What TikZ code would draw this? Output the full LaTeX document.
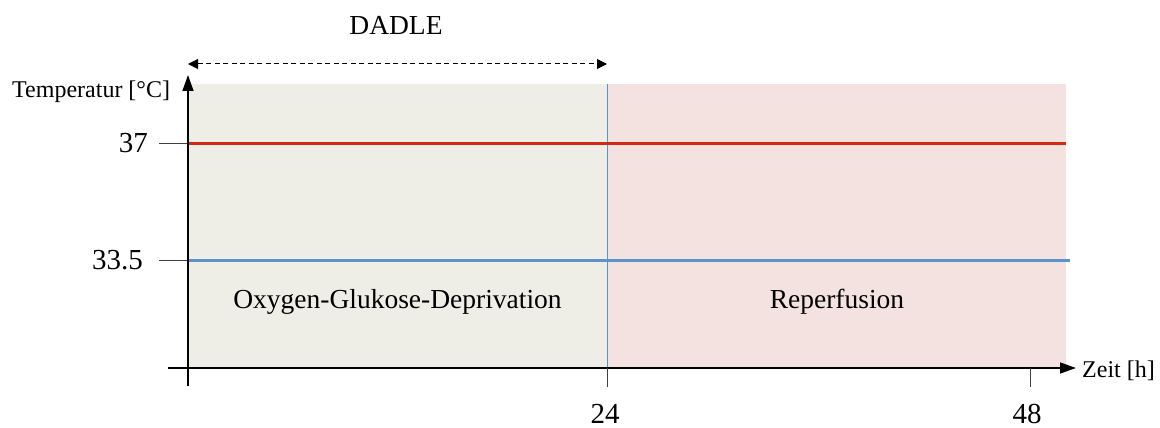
\documentclass[tikz,border=0pt]{standalone}
\usepackage{fontspec}
\setmainfont{Liberation Serif}
\usetikzlibrary{arrows.meta}
\definecolor{ogdbg}{HTML}{EFEEE6}
\definecolor{repbg}{HTML}{F4E2E0}
\definecolor{hotline}{HTML}{D22A10}
\definecolor{coldline}{HTML}{5B93CC}
\begin{document}
\begin{tikzpicture}[x=1pt,y=-1pt,
  axis/.style={line width=1.3pt,-{Triangle[length=16pt,width=11pt]}},
  tickline/.style={line width=1pt,draw=black!75},
  lbl/.style={inner sep=0pt,font=\fontsize{24}{26}\selectfont},
  big/.style={inner sep=0pt,font=\fontsize{29}{31}\selectfont},
  mid/.style={inner sep=0pt,font=\fontsize{27.5}{30}\selectfont}]
\useasboundingbox (0,0) rectangle (1160,428);
% backgrounds
\fill[ogdbg] (188,84) rectangle (607,368);
\fill[repbg] (607,84) rectangle (1066,368);
\draw[coldline,line width=1pt] (607,84) -- (607,368);
% temperature lines
\coordinate (r0) at (188,143);
\coordinate (r1) at (1066,143);
\coordinate (b0) at (188,260);
\coordinate (b1) at (1070,260);
\draw[hotline,line width=3pt] (r0) -- (r1);
\draw[coldline,line width=3pt] (b0) -- (b1);
% y ticks
\coordinate (t37) at (159,143);
\coordinate (t335) at (159,260);
\draw[tickline] (t37) -- (r0);
\draw[tickline] (t335) -- (b0);
\node[big,anchor=east] (l37) at (148,143) {37};
\node[big,anchor=east] (l335) at (143,260) {33.5};
% axes
\coordinate (yb) at (188,386);
\coordinate (yt) at (188,75);
\coordinate (xl) at (168,368);
\coordinate (xr) at (1076,368);
\draw[axis] (yb) -- (yt);
\draw[axis] (xl) -- (xr);
\node[lbl,anchor=west] (ylab) at (12,92) {Temperatur [°C]};
\node[lbl,anchor=west] (xlab) at (1082,371) {Zeit [h]};
% x ticks
\coordinate (x24a) at (607,368);
\coordinate (x24b) at (607,387);
\coordinate (x48a) at (1030,368);
\coordinate (x48b) at (1030,387);
\draw[tickline] (x24a) -- (x24b);
\draw[tickline] (x48a) -- (x48b);
\node[big] (l24) at (605,414) {24};
\node[big] (l48) at (1027,414) {48};
% DADLE
\node[mid] (dadle) at (396,25) {DADLE};
\coordinate (d0) at (188,64);
\coordinate (d1) at (607,64);
\draw[line width=1pt,dash pattern=on 5pt off 3.5pt,{Triangle[length=10pt,width=10pt]}-{Triangle[length=10pt,width=10pt]}] (d0) -- (d1);
% phase labels
\node[mid] (ogd) at (397.5,302) {Oxygen-Glukose-Deprivation};
\node[mid] (rep) at (837,302) {Reperfusion};
\end{tikzpicture}
\end{document}
